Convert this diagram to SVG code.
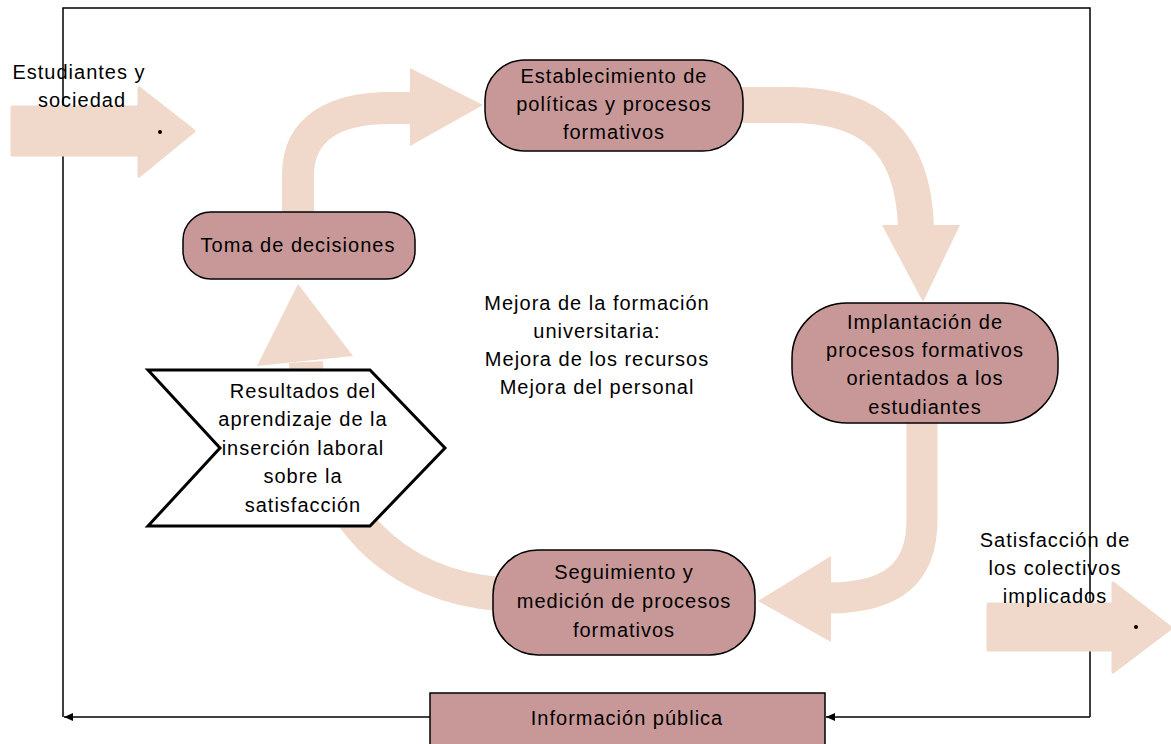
<svg xmlns="http://www.w3.org/2000/svg" width="1171" height="744" viewBox="0 0 1171 744">
<style>
.t{font-family:"Liberation Sans",Arial,sans-serif;font-size:20px;fill:#000;letter-spacing:1px;text-anchor:middle}
.node{fill:#c89898;stroke:#000;stroke-width:1.5}
.flow{fill:none;stroke:#f0d9ca;stroke-linecap:butt}
.head{fill:#f0d9ca}
.blk{fill:#f0d9ca;stroke:#f0d9ca;stroke-width:3;stroke-linejoin:round}
.line{fill:none;stroke:#000;stroke-width:1.5}
</style>
<defs>
<marker id="ah" markerWidth="10" markerHeight="10" refX="9" refY="5" orient="auto" markerUnits="userSpaceOnUse">
<path d="M0,1 L9,5 L0,9 Z" fill="#000"/>
</marker>
</defs>
<rect width="1171" height="744" fill="#fff"/>
<g id="connectors">
<path class="line" d="M63,717 V8 H1090 V717"/>
<path class="line" d="M1090,717 H826" marker-end="url(#ah)"/>
<path class="line" d="M430,717 H64" marker-end="url(#ah)"/>
<path class="flow" stroke-width="32" d="M298,214 L298,175 C298,128 335,108 390,108 L412,108"/>
<polygon class="head" points="410,68 483,105 410,146"/>
<path class="flow" stroke-width="36" d="M740,105 L790,105 C870,105 913,140 916,227"/>
<polygon class="head" points="882,225 960,225 923,302"/>
<path class="flow" stroke-width="31" d="M922,420 L922,520 C922,575 890,598 828,598"/>
<polygon class="head" points="831,556 831,642 758,601"/>
<path class="flow" stroke-width="34" d="M500,594 C405,587 312,525 306,362"/>
<polygon class="head" points="298,284 353,356 257,366"/>
</g>
<g id="input">
<polygon class="blk" points="12,107 139,107 139,88 194,131 139,176 139,155 12,155"/>
<circle cx="160" cy="132" r="2" fill="#000"/>
<text class="t" x="79" y="79">Estudiantes y</text>
<text class="t" x="82" y="107">sociedad</text>
</g>
<g id="output">
<polygon class="blk" points="988,604 1113,604 1113,583 1171,628 1113,672 1113,650 988,650"/>
<circle cx="1136" cy="627" r="2" fill="#000"/>
<text class="t" x="1055" y="547">Satisfacción de</text>
<text class="t" x="1055" y="575">los colectivos</text>
<text class="t" x="1055" y="603">implicados</text>
</g>
<g id="n1">
<rect class="node" x="485" y="60" width="258" height="91" rx="40" ry="40"/>
<text class="t" x="614" y="83">Establecimiento de</text>
<text class="t" x="614" y="111">políticas y procesos</text>
<text class="t" x="614" y="139">formativos</text>
</g>
<g id="n2">
<rect class="node" x="183" y="212" width="232" height="67" rx="28" ry="28"/>
<text class="t" x="298" y="252">Toma de decisiones</text>
</g>
<g id="n3">
<rect class="node" x="792" y="303" width="266" height="120" rx="55" ry="55"/>
<text class="t" x="925" y="329">Implantación de</text>
<text class="t" x="925" y="357">procesos formativos</text>
<text class="t" x="925" y="385">orientados a los</text>
<text class="t" x="925" y="414">estudiantes</text>
</g>
<g id="n4">
<rect class="node" x="493" y="550" width="262" height="105" rx="45" ry="45"/>
<text class="t" x="624" y="579">Seguimiento y</text>
<text class="t" x="624" y="608">medición de procesos</text>
<text class="t" x="624" y="637">formativos</text>
</g>
<g id="n5">
<polygon points="148,370 370,370 445,448 370,526 148,526 220,448" fill="#fff" stroke="#000" stroke-width="3"/>
<text class="t" x="303" y="398">Resultados del</text>
<text class="t" x="303" y="426">aprendizaje de la</text>
<text class="t" x="303" y="455">inserción laboral</text>
<text class="t" x="303" y="483">sobre la</text>
<text class="t" x="303" y="512">satisfacción</text>
</g>
<g id="center">
<text class="t" x="597" y="310">Mejora de la formación</text>
<text class="t" x="597" y="338">universitaria:</text>
<text class="t" x="597" y="366">Mejora de los recursos</text>
<text class="t" x="597" y="394">Mejora del personal</text>
</g>
<g id="n6">
<rect class="node" x="430" y="693" width="395" height="60"/>
<text class="t" x="627" y="725">Información pública</text>
</g>
</svg>
